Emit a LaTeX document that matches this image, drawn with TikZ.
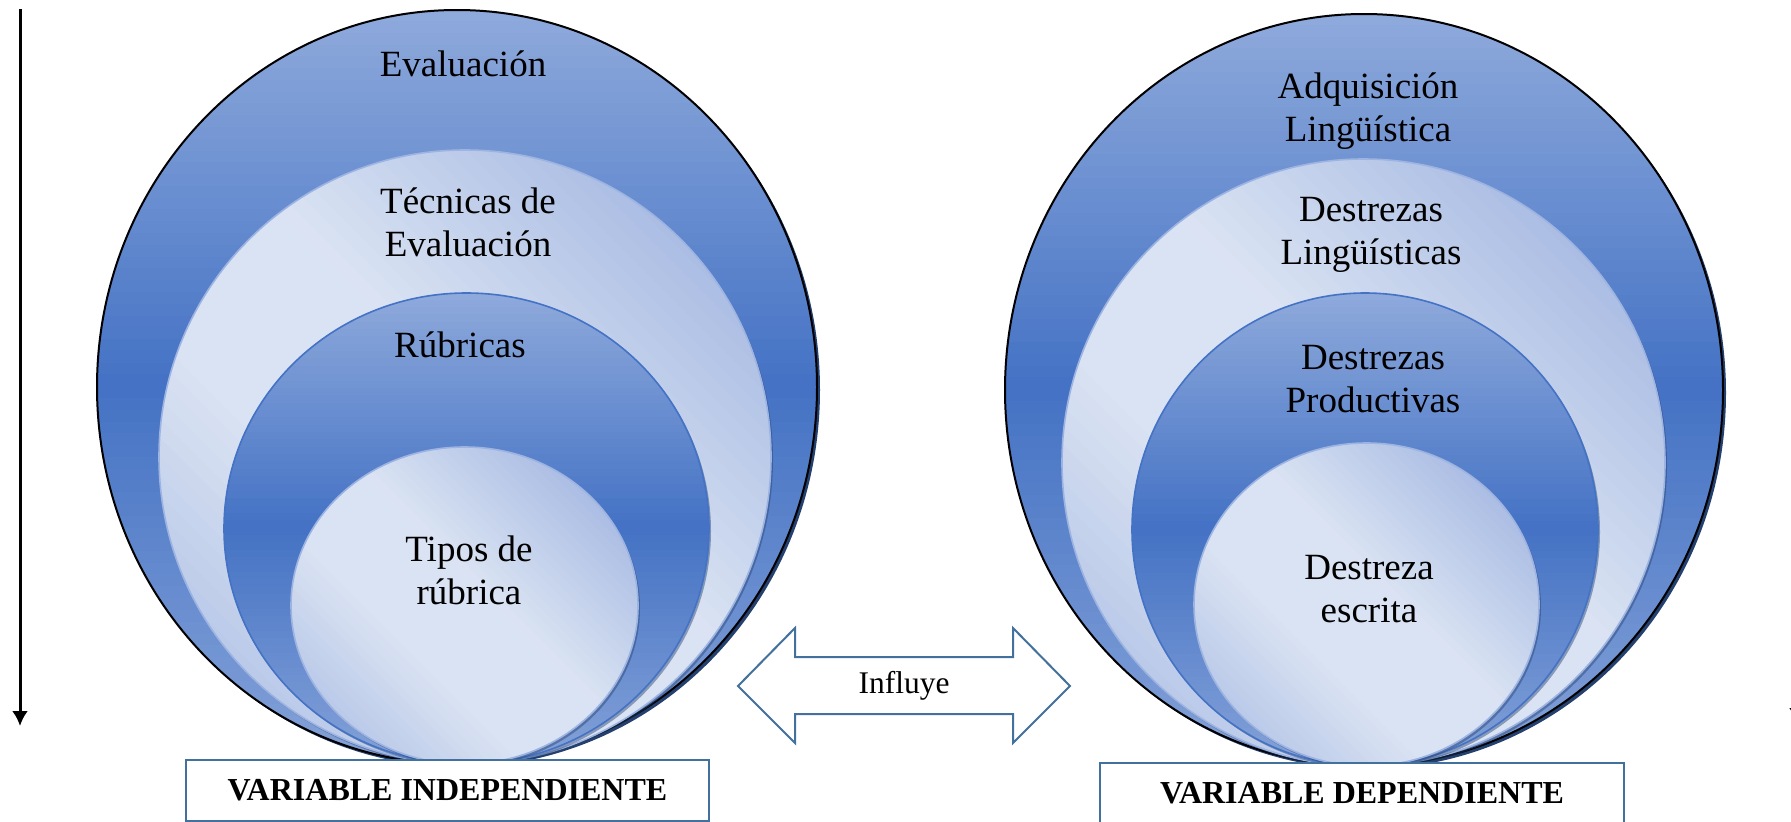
\documentclass[tikz,border=0pt]{standalone}
\usepackage{fontspec}
\setmainfont{Liberation Serif}
\usetikzlibrary{arrows.meta}
\definecolor{bT}{HTML}{8FAADC}
\definecolor{bM}{HTML}{4472C4}
\definecolor{bB}{HTML}{85A2D8}
\definecolor{lL}{HTML}{DAE3F3}
\definecolor{lD}{HTML}{A3B7E1}
\definecolor{edgeL}{HTML}{9DB4E2}
\definecolor{arrowC}{HTML}{41719C}
\definecolor{shad}{HTML}{24406F}
% vertical three-stop gradient inside an ellipse: cx cy rx ry top mid bottom
\newcommand\vgradell[7]{%
 \begin{scope}
  \clip (#1,#2) ellipse [x radius=#3, y radius=#4];
  \pgfmathsetmacro\gS{#4/32}%
  \foreach \gI in {0,...,63}{%
    \pgfmathsetmacro\gYa{#2+#4-\gS*\gI+0.8}%
    \pgfmathsetmacro\gYb{#2+#4-\gS*(\gI+1)-0.8}%
    \pgfmathtruncatemacro\gP{abs(\gI+0.5-32)/32*100}%
    \ifnum\gI<32
      \fill[#5!\gP!#6] (#1-#3,\gYa) rectangle (#1+#3,\gYb);
    \else
      \fill[#7!\gP!#6] (#1-#3,\gYa) rectangle (#1+#3,\gYb);
    \fi
  }
 \end{scope}}
% diagonal gradient (dark upper-right and lower-left, light band between)
\newcommand\dgradell[6]{%
 \begin{scope}
  \clip (#1,#2) ellipse [x radius=#3, y radius=#4];
  \pgfmathsetmacro\gE{(#3+#4)/sqrt(2)}%
  \pgfmathsetmacro\gS{\gE/32}%
  \begin{scope}[rotate around={-45:(#1,#2)}]
  \foreach \gI in {0,...,63}{%
    \pgfmathsetmacro\gYa{#2+\gE-\gS*\gI+0.8}%
    \pgfmathsetmacro\gYb{#2+\gE-\gS*(\gI+1)-0.8}%
    \pgfmathsetmacro\gT{1-(2*\gI+1)/64}%
    \pgfmathtruncatemacro\gP{100*min(1,max(0,(abs(\gT+0.1)-0.2)/0.7))}%
    \fill[#5!\gP!#6] (#1-\gE,\gYa) rectangle (#1+\gE,\gYb);
  }
  \end{scope}
 \end{scope}}
\begin{document}
\begin{tikzpicture}[x=0.5bp,y=0.5bp,
  outerline/.style={draw=black, line width=1bp},
  lightline/.style={draw=edgeL, line width=0.8bp},
  blueline/.style={draw=bM, line width=0.8bp},
  shadowfill/.style={fill=shad},
  innershadow/.style={fill=shad, opacity=0.45},
  lab/.style={anchor=base, inner sep=0pt, font=\fontsize{18.5bp}{21.5bp}\selectfont},
  varbox/.style={draw=arrowC, line width=1bp, fill=white, inner sep=0pt,
    minimum height=30.5bp, font=\bfseries\fontsize{16bp}{19bp}\selectfont},
  vline/.style={line width=1.5bp, -{Latex[length=7.5bp,width=8bp]}},
  bigarrow/.style={draw=arrowC, line width=1bp, fill=white}
]
\path[fill=white] (0,0) rectangle (1791,-822);
\useasboundingbox (0,0) rectangle (1791,-822);

% vertical arrows
\coordinate (la) at (20,-9);
\coordinate (lb) at (20,-726);
\draw[vline] (la) -- (lb);
\coordinate (ra) at (1797,-9);
\coordinate (rb) at (1797,-723);
\draw[vline] (ra) -- (rb);

% ---------- left nested ellipses ----------
\fill[shadowfill] (460,-390) ellipse [x radius=360, y radius=377];
\vgradell{457}{-387}{360}{377}{bT}{bM}{bB}
\draw[outerline] (457,-387) ellipse [x radius=360, y radius=377];
\fill[innershadow] (467,-459.5) ellipse [x radius=306, y radius=307];
\dgradell{465}{-457}{306}{307}{lD}{lL}
\draw[lightline] (465,-457) ellipse [x radius=306, y radius=307];
\fill[innershadow] (468.5,-531) ellipse [x radius=242.5, y radius=235.5];
\vgradell{466.5}{-528.5}{242.5}{235.5}{bT}{bM}{bB}
\draw[blueline] (466.5,-528.5) ellipse [x radius=242.5, y radius=235.5];
\fill[innershadow] (466.5,-608) ellipse [x radius=173.5, y radius=158.5];
\dgradell{464.5}{-605.5}{173.5}{158.5}{lD}{lL}
\draw[lightline] (464.5,-605.5) ellipse [x radius=173.5, y radius=158.5];

% ---------- right nested ellipses ----------
\fill[shadowfill] (1367,-393) ellipse [x radius=359, y radius=376];
\vgradell{1364}{-390}{359}{376}{bT}{bM}{bB}
\draw[outerline] (1364,-390) ellipse [x radius=359, y radius=376];
\fill[innershadow] (1365.5,-465) ellipse [x radius=301.5, y radius=303.5];
\dgradell{1363.5}{-462.5}{301.5}{303.5}{lD}{lL}
\draw[lightline] (1363.5,-462.5) ellipse [x radius=301.5, y radius=303.5];
\fill[innershadow] (1367,-532) ellipse [x radius=233, y radius=236.5];
\vgradell{1365}{-529.5}{233}{236.5}{bT}{bM}{bB}
\draw[blueline] (1365,-529.5) ellipse [x radius=233, y radius=236.5];
\fill[innershadow] (1368.5,-607) ellipse [x radius=172.5, y radius=161.5];
\dgradell{1366.5}{-604.5}{172.5}{161.5}{lD}{lL}
\draw[lightline] (1366.5,-604.5) ellipse [x radius=172.5, y radius=161.5];

% ---------- labels left ----------
\node[lab] (eval) at (463,-76) {Evaluación};
\node[lab] (tec) at (468,-213) {\begin{tabular}[t]{@{}c@{}}Técnicas de\\Evaluación\end{tabular}};
\node[lab] (rub) at (460,-357) {Rúbricas};
\node[lab] (tip) at (469,-561) {\begin{tabular}[t]{@{}c@{}}Tipos de\\rúbrica\end{tabular}};

% ---------- labels right ----------
\node[lab] (adq) at (1368,-98) {\begin{tabular}[t]{@{}c@{}}Adquisición\\Lingüística\end{tabular}};
\node[lab] (dl) at (1371,-221) {\begin{tabular}[t]{@{}c@{}}Destrezas\\Lingüísticas\end{tabular}};
\node[lab] (dp) at (1373,-369) {\begin{tabular}[t]{@{}c@{}}Destrezas\\Productivas\end{tabular}};
\node[lab] (de) at (1369,-579) {\begin{tabular}[t]{@{}c@{}}Destreza\\escrita\end{tabular}};

% ---------- double arrow ----------
\path[bigarrow] (738,-686) -- (795,-628) -- (795,-657) -- (1013,-657) -- (1013,-628)
  -- (1070,-686) -- (1013,-743) -- (1013,-714) -- (795,-714) -- (795,-743) -- cycle;
\node[anchor=base, inner sep=0pt, font=\fontsize{15.75bp}{19bp}\selectfont] (inf) at (904,-693) {Influye};

% ---------- variable boxes ----------
\node[varbox, minimum width=261.5bp] (vi) at (447.5,-790.5) {VARIABLE INDEPENDIENTE};
\node[varbox, minimum width=262bp] (vd) at (1362,-793.5) {VARIABLE DEPENDIENTE};
\end{tikzpicture}
\end{document}
